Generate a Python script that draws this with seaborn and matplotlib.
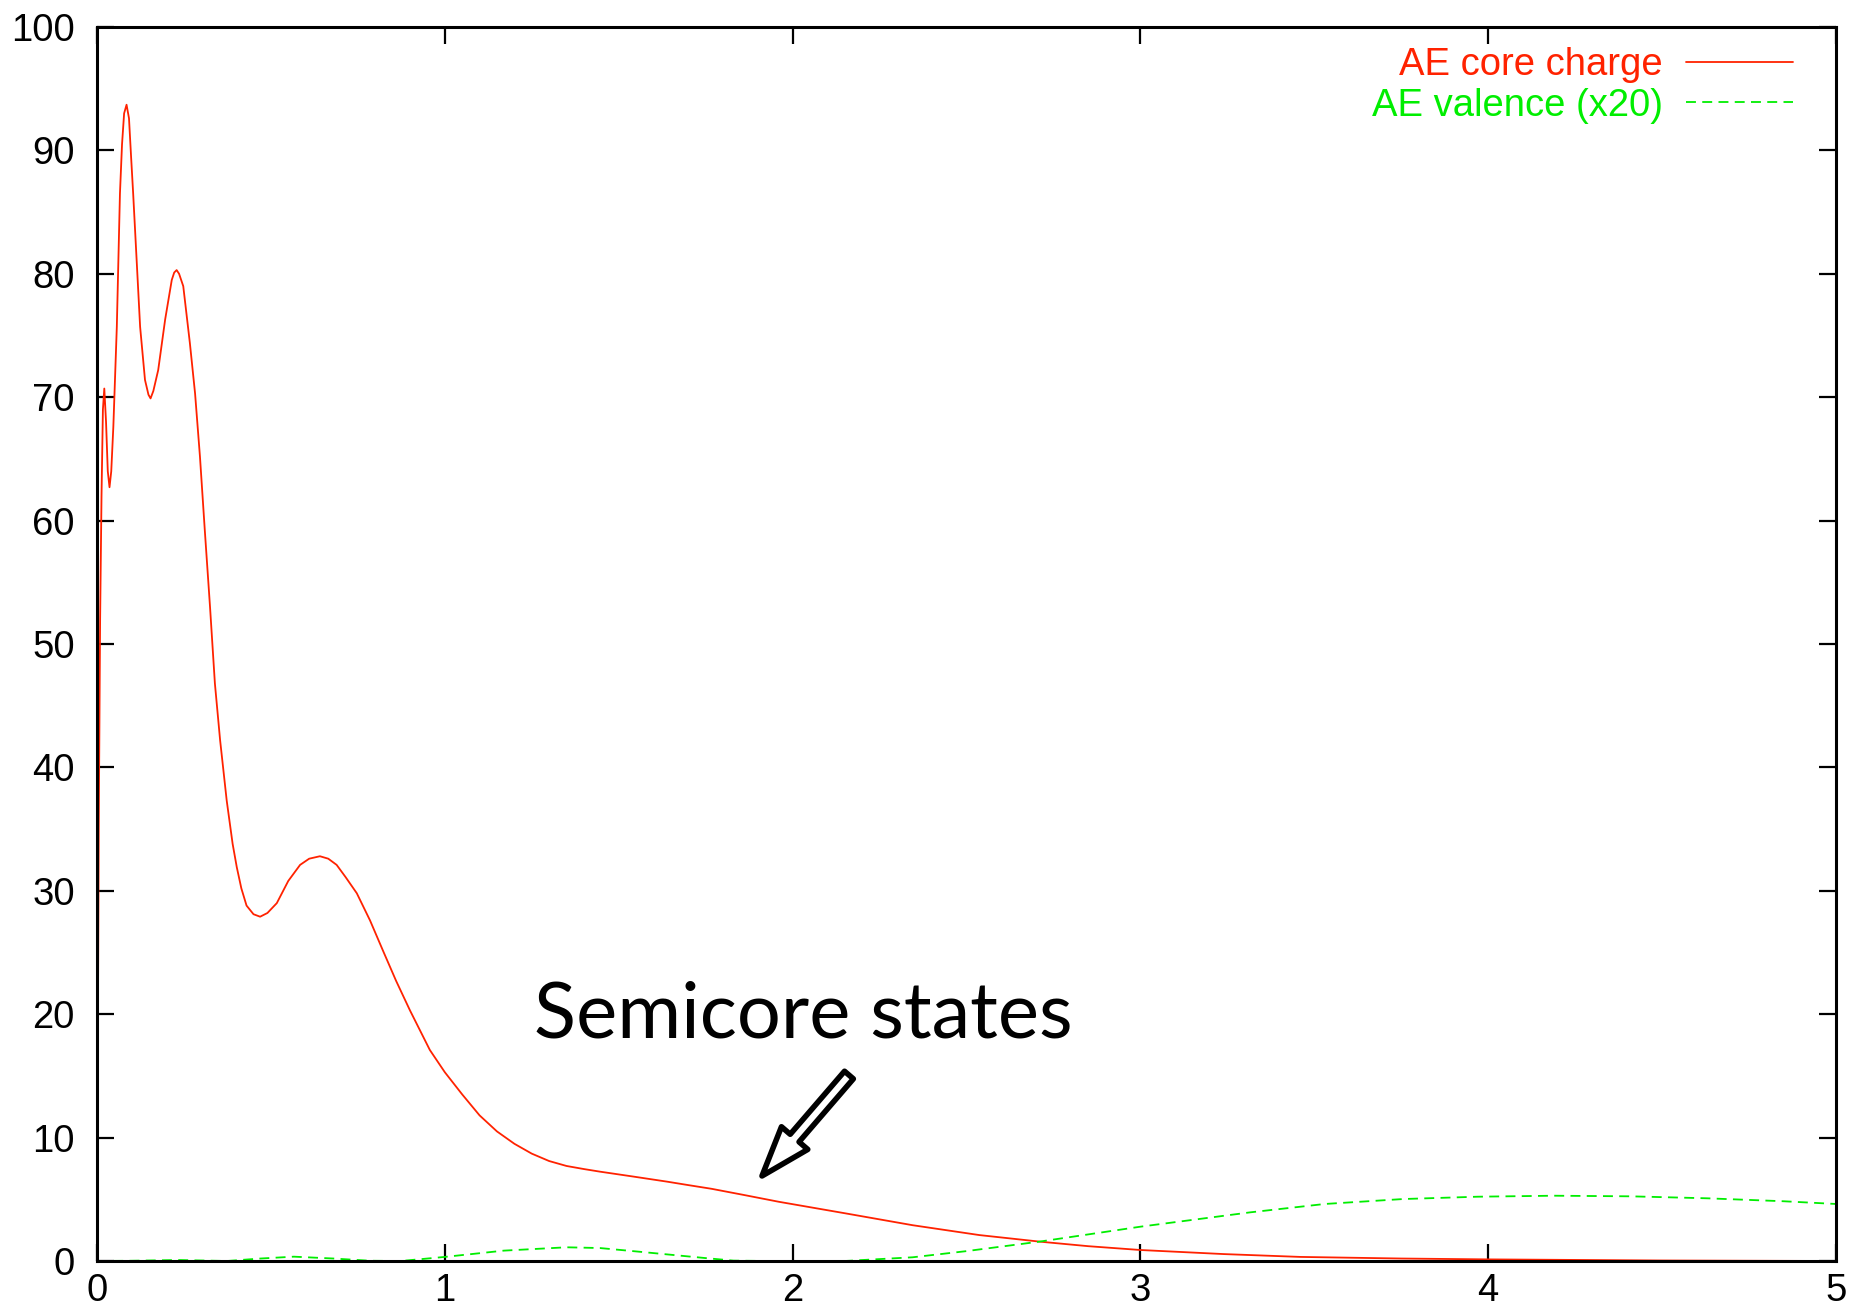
import matplotlib
matplotlib.use("Agg")
import matplotlib.pyplot as plt
import seaborn as sns
import pandas as pd

# AE core charge
core_r = [0, 0.002, 0.005, 0.009, 0.013, 0.017, 0.021, 0.026, 0.031, 0.036, 0.041, 0.047,
          0.057, 0.066, 0.072, 0.078, 0.085, 0.092, 0.098, 0.104, 0.114, 0.124, 0.138,
          0.148, 0.154, 0.162, 0.176, 0.196, 0.215, 0.222, 0.229, 0.236, 0.248, 0.267,
          0.282, 0.296, 0.31, 0.325, 0.339, 0.354, 0.373, 0.39, 0.402, 0.415, 0.43,
          0.45, 0.469, 0.49, 0.517, 0.55, 0.584, 0.61, 0.641, 0.665, 0.689, 0.715,
          0.747, 0.785, 0.823, 0.86, 0.9, 0.957, 1.0, 1.05, 1.1, 1.15, 1.2, 1.25, 1.3,
          1.35, 1.4, 1.446, 1.54, 1.639, 1.7, 1.767, 1.86, 1.96, 2.152, 2.345, 2.537,
          2.71, 2.85, 3.0, 3.24, 3.46, 3.75, 4.0, 4.5, 5.0]
core_q = [0, 15, 35, 52, 62, 69, 70.7, 68, 64, 62.7, 64, 67.6,
          75.7, 86.5, 90.5, 93.0, 93.7, 92.6, 89.5, 86.5, 81.1, 75.7, 71.4,
          70.2, 69.9, 70.5, 72.2, 76.3, 79.5, 80.1, 80.3, 80.0, 79.0, 74.4,
          70.3, 65.2, 59.2, 53, 46.8, 42.2, 37.3, 33.8, 31.9, 30.2, 28.8,
          28.1, 27.9, 28.2, 29.0, 30.8, 32.1, 32.6, 32.8, 32.6, 32.1, 31.1,
          29.8, 27.6, 25.1, 22.7, 20.3, 17.1, 15.3, 13.5, 11.8, 10.5, 9.5, 8.7, 8.1,
          7.7, 7.45, 7.24, 6.85, 6.43, 6.15, 5.85, 5.35, 4.8, 3.86, 2.9, 2.1,
          1.57, 1.2, 0.89, 0.56, 0.33, 0.2, 0.13, 0.04, 0.0]

# AE valence, scaled x20
val_r = [0, 0.1, 0.233, 0.374, 0.47, 0.566, 0.68, 0.785, 0.874, 1.0, 1.17, 1.35, 1.446,
         1.556, 1.748, 1.83, 1.93, 2.15, 2.345, 2.5, 2.71, 3.0, 3.315, 3.53, 3.755,
         3.97, 4.19, 4.41, 4.63, 4.85, 5.0]
val_q = [0, 0.02, 0.08, 0.0, 0.2, 0.35, 0.2, 0.02, 0.0, 0.33, 0.84, 1.11, 1.05,
         0.76, 0.24, 0.03, 0.0, 0.0, 0.3, 0.8, 1.57, 2.78, 3.94, 4.62, 5.02,
         5.21, 5.29, 5.24, 5.08, 4.84, 4.62]

x_ticks = [0, 1, 2, 3, 4, 5]
y_ticks = list(range(0, 101, 10))

label_core = "AE core charge"
label_val = "AE valence (x20)"
note_text = "Semicore states"
note_xy = (1.912, 6.89)      # arrow tip
note_tail = (2.162, 15.07)   # arrow tail
note_pos = (1.257, 18.15)    # text baseline start

RED = "#ff2200"
GREEN = "#00ee00"

core_df = pd.DataFrame({"r": core_r, "q": core_q})
val_df = pd.DataFrame({"r": val_r, "q": val_q})

sns.set_style("ticks")
plt.rcParams["font.family"] = ["Liberation Sans", "DejaVu Sans"]

fig = plt.figure(figsize=(18.51, 13.16), dpi=100)
ax = fig.add_axes([0.0524, 0.0418, 0.9395, 0.9377])

sns.lineplot(data=core_df, x="r", y="q", ax=ax, color=RED, lw=1.3,
             estimator=None, sort=False, label=label_core)
sns.lineplot(data=val_df, x="r", y="q", ax=ax, color=GREEN, lw=1.3,
             estimator=None, sort=False, label=label_val)
ax.lines[1].set_dashes((5.5, 3.5))

ax.set_xlim(0, 5)
ax.set_ylim(0, 100)
ax.set_xticks(x_ticks)
ax.set_yticks(y_ticks)
ax.set_xlabel("")
ax.set_ylabel("")
for s in ax.spines.values():
    s.set_linewidth(2.2)
    s.set_color("black")
ax.tick_params(direction="in", length=12, width=1.6, top=True, right=True,
               labelsize=27.5, colors="black")
ax.tick_params(axis="x", pad=9)
ax.tick_params(axis="y", pad=16)

# markerfirst=False right-aligns the labels against the line samples
ax.legend(loc="upper right", bbox_to_anchor=(0.984, 0.996), frameon=False,
          markerfirst=False, labelcolor="linecolor", fontsize=27.5,
          handlelength=2.8, handletextpad=0.6, labelspacing=0.12,
          borderaxespad=0)

ax.text(note_pos[0], note_pos[1], note_text, fontsize=56, family="Lato",
        color="black", ha="left", va="baseline")
ax.annotate("", xy=note_xy, xytext=note_tail,
            arrowprops=dict(arrowstyle="simple,head_length=1.8,head_width=1.25,tail_width=0.42",
                            fc="white", ec="black", lw=4, shrinkA=0, shrinkB=0,
                            mutation_scale=20))

fig.savefig("out.png", dpi=100)
